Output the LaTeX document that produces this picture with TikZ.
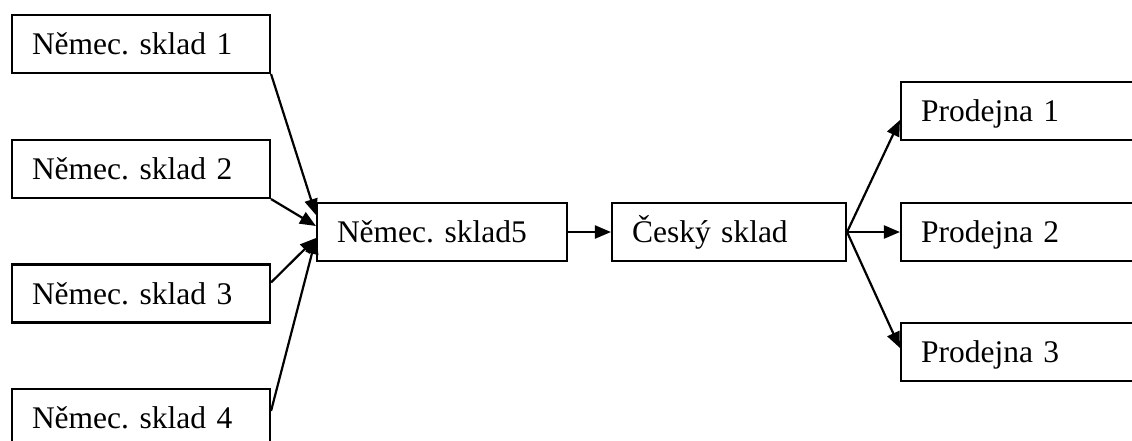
\documentclass[tikz,border=0pt]{standalone}
\usepackage{fontspec}
\setmainfont{Liberation Serif}
\usetikzlibrary{arrows.meta,calc}
\frenchspacing
\begin{document}
\begin{tikzpicture}[x=1pt,y=-1pt,
  box/.style={draw=black, line width=2.1pt, rectangle, minimum height=58pt,
    inner xsep=20pt, inner ysep=0pt, align=left, anchor=center,
    text height=21pt, text depth=0pt,
    font=\fontsize{31.5}{38}\selectfont\frenchspacing},
  conn/.style={line width=2.2pt, -{Triangle[length=16pt,width=13pt]}}]
\clip (0,0) rectangle (1132,440);
\fill[white] (0,0) rectangle (1132,440);
\node[box, text width=218pt] (n1) at (141,44) {Němec. sklad 1};
\node[box, text width=218pt] (n2) at (141,169) {Němec. sklad 2};
\node[box, text width=218pt] (n3) at (141,293.5) {Němec. sklad 3};
\node[box, text width=218pt] (n4) at (141,418) {Němec. sklad 4};
\node[box, text width=210pt] (m) at (442,232) {Němec. sklad5};
\node[box, text width=194pt] (c) at (729,232) {Český sklad};
\node[box, text width=220pt] (p1) at (1031,111) {Prodejna 1};
\node[box, text width=220pt] (p2) at (1031,232) {Prodejna 2};
\node[box, text width=220pt] (p3) at (1031,352) {Prodejna 3};
\draw[conn] (n1.south east) -- ($(m.west)+(0,-17)$);
\draw[conn] (n2.south east) -- ($(m.west)+(0,-6)$);
\draw[conn] ($(n3.north east)+(0,19)$) -- ($(m.west)+(0,6)$);
\draw[conn] ($(n4.north east)+(0,23)$) -- ($(m.west)+(0,6)$);
\draw[conn] (m.east) -- (c.west);
\draw[conn] (c.east) -- ($(p1.west)+(0,9)$);
\draw[conn] (c.east) -- (p2.west);
\draw[conn] (c.east) -- ($(p3.west)+(0,-4)$);
\end{tikzpicture}
\end{document}
